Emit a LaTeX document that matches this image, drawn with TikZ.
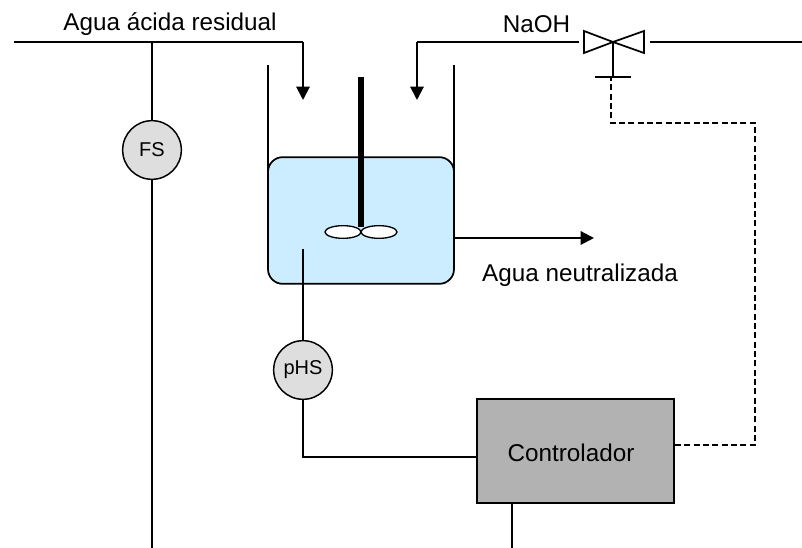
\documentclass[tikz,border=0pt]{standalone}
\usepackage{fontspec}
\setmainfont{Liberation Sans}
\usetikzlibrary{calc, positioning, shapes, arrows.meta}
\definecolor{liquid}{HTML}{CCECFF}
\tikzstyle{pipe}=[line width=1.5pt,black]
\tikzstyle{flow}=[pipe,-{Triangle[length=10pt,width=10pt]}]
\tikzstyle{signal}=[line width=1.4pt,dash pattern=on 4.5pt off 2.5pt]
\tikzstyle{sensor}=[circle,draw,line width=1.1pt,fill=black!13,minimum size=44pt,inner sep=0pt,font=\fontsize{15}{15}\selectfont]
\tikzstyle{tank}=[draw,line width=1.3pt,fill=liquid,rounded corners=11pt,minimum width=139.5pt,minimum height=95pt,inner sep=0pt]
\tikzstyle{control}=[draw,line width=1.3pt,fill=black!30,minimum width=148pt,minimum height=78pt,inner sep=0pt,font=\fontsize{18}{18}\selectfont]
\tikzstyle{label}=[inner sep=0pt,font=\fontsize{18.2}{18.2}\selectfont]
\tikzstyle{blade}=[ellipse,draw,line width=1pt,fill=white,minimum width=27pt,minimum height=9.5pt,inner sep=0pt]
\begin{document}
\begin{tikzpicture}[x=0.75pt,y=-0.75pt]
	\useasboundingbox (0,0) rectangle (802,548);
	% free ends of the lines
	\coordinate (acid-in) at (14,42);
	\coordinate (acid-bend) at (303,42);
	\coordinate (acid-tip) at (303,100);
	\coordinate (base-tip) at (417,100);
	\coordinate (base-bend) at (417,42);
	\coordinate (valve-l) at (579,42);
	\coordinate (valve-r) at (650,42);
	\coordinate (line-end) at (802,42);
	\coordinate (V) at (613,42);
	\coordinate (V-foot) at (613,77);
	\coordinate (bar-l) at (595,77);
	\coordinate (bar-r) at (631,77);
	\coordinate (FS-top) at (152,42);
	\coordinate (FS-end) at (152,548);
	\coordinate (C-end) at (512,548);
	\coordinate (out-tip) at (594,238);
	\coordinate (probe) at (303,249);
	\coordinate (wall-l) at (268,65);
	\coordinate (wall-r) at (454,65);
	\coordinate (shaft-top) at (361,77);
	\coordinate (shaft-end) at (361,227);
	% walls go first, the tank covers their ends
	\draw[pipe] (wall-l) -- (268,175);
	\draw[pipe] (wall-r) -- (454,175);
	\node[tank] (T) at (361,220.5) {};
	\node[blade] (B-1) at (343,232) {};
	\node[blade] (B-2) at (379,232) {};
	\draw[line width=4pt] (shaft-top) -- (shaft-end);
	% instruments
	\node[sensor] (FS) at (152,150) {FS};
	\node[sensor] (pHS) at (303,370) {pHS};
	\node[control] (C) at (575.5,451) {};
	\node[label] (C-text) at (571,453) {Controlador};
	% valve
	\draw[line width=1.3pt] (V) -- (584,31) -- (584,53) -- cycle;
	\draw[line width=1.3pt] (V) -- (644,31) -- (644,53) -- cycle;
	\draw[pipe] (V) -- (V-foot);
	\draw[pipe] (bar-l) -- (bar-r);
	% labels
	\node[label] (L-acid) at (170,24) {Agua ácida residual};
	\node[label] (L-base) at (536.5,24) {NaOH};
	\node[label] (L-out) at (580,275) {Agua neutralizada};
	% lines
	\draw[pipe] (acid-in) -- (acid-bend);
	\draw[flow] (acid-bend) -- (acid-tip);
	\draw[pipe] (base-bend) -- (valve-l);
	\draw[flow] (base-bend) -- (base-tip);
	\draw[pipe] (valve-r) -- (line-end);
	\draw[pipe] (FS-top) -- (FS);
	\draw[pipe] (FS) -- (FS-end);
	\draw[flow] (T.east |- out-tip) -- (out-tip);
	\draw[pipe] (probe) -- (pHS);
	\draw[pipe] (pHS) |- (C.west |- 0,457);
	\draw[pipe] (C.south -| C-end) -- (C-end);
	\draw[signal] (C.east |- 0,445) -- (755,445) -- (755,123) -- (611,123) -- (611,77);
\end{tikzpicture}
\end{document}
